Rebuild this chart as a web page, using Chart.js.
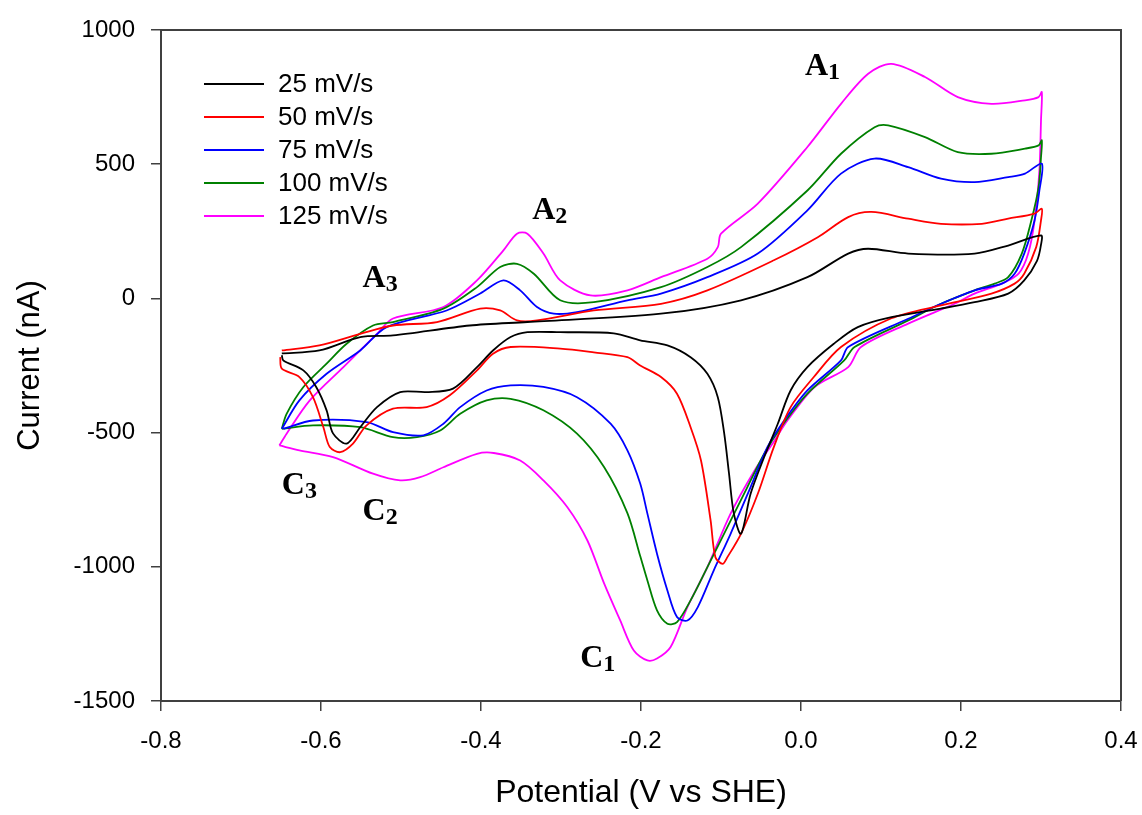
<!DOCTYPE html>
<html>
<head>
<meta charset="utf-8">
<script src="https://cdn.jsdelivr.net/npm/chart.js@4.4.1/dist/chart.umd.min.js"></script>
<style>
  html, body { margin: 0; padding: 0; background: #fff; }
  canvas { display: block; }
</style>
</head>
<body>
<canvas id="cv" width="1142" height="815"></canvas>
<script>
// scan rates (legend)
const scanRates = ["25 mV/s", "50 mV/s", "75 mV/s", "100 mV/s", "125 mV/s"];
const lineColors = ["#000000", "#ff0000", "#0000ff", "#008000", "#ff00ff"];

// each loop: anodic sweep -0.65 -> 0.3 V, then back cathodic to -0.65 V
const v25 = [-0.649,-0.602,-0.551,-0.510,-0.414,-0.342,-0.175,-0.075,0.008,0.059,0.084,0.134,0.217,0.259,0.300,
  0.300,0.295,0.279,0.259,0.217,0.175,0.113,0.071,0.041,0.008,-0.013,-0.029,-0.046,-0.063,-0.075,
  -0.084,-0.090,-0.096,-0.104,-0.117,-0.138,-0.167,-0.201,-0.234,-0.301,-0.342,-0.363,-0.385,-0.405,
  -0.435,-0.468,-0.501,-0.530,-0.551,-0.568,-0.585,-0.593,-0.606,-0.622,-0.647,-0.649];
const i25 = [-205,-194,-144,-138,-101,-88,-57,-7,79,167,185,167,167,197,235,
  200,140,67,18,-14,-38,-70,-107,-169,-256,-343,-467,-591,-728,-877,
  -801,-652,-503,-368,-281,-219,-175,-156,-130,-126,-126,-144,-194,-256,
  -336,-349,-349,-405,-480,-541,-503,-417,-330,-268,-231,-212];

const v50 = [-0.649,-0.602,-0.551,-0.510,-0.455,-0.401,-0.376,-0.355,-0.330,-0.259,
  -0.175,-0.117,-0.034,0.021,0.059,0.088,0.134,0.175,0.226,0.259,0.292,0.301,
  0.300,0.294,0.279,0.267,0.238,0.175,0.113,0.050,0.016,-0.013,
  -0.034,-0.054,-0.075,-0.092,-0.098,-0.107,-0.113,-0.125,-0.138,-0.155,
  -0.175,-0.201,-0.217,-0.259,-0.301,-0.363,-0.385,-0.405,-0.439,-0.468,-0.510,
  -0.543,-0.560,-0.576,-0.589,-0.597,-0.610,-0.627,-0.649,-0.651];
const i50 = [-194,-175,-132,-101,-88,-38,-45,-82,-82,-45,
  -20,30,142,228,303,322,297,278,278,297,316,334,
  291,191,92,55,18,-26,-74,-181,-293,-405,
  -554,-728,-877,-964,-989,-964,-827,-604,-480,-355,
  -293,-250,-219,-201,-187,-181,-206,-268,-361,-405,-411,
  -473,-541,-573,-554,-480,-368,-293,-262,-219];

const v75 = [-0.649,-0.627,-0.593,-0.551,-0.518,-0.443,-0.401,-0.372,-0.351,-0.330,
  -0.309,-0.280,-0.217,-0.175,-0.117,-0.054,0.008,0.050,0.092,0.134,
  0.175,0.217,0.259,0.280,0.301,
  0.298,0.292,0.279,0.267,0.251,0.217,0.175,0.134,0.059,0.050,
  0.008,-0.021,-0.042,-0.063,-0.088,-0.109,-0.129,-0.142,-0.155,-0.167,
  -0.180,-0.192,-0.201,-0.217,-0.238,-0.280,-0.322,-0.363,-0.393,-0.426,
  -0.447,-0.472,-0.510,-0.543,-0.610,-0.647];
const i75 = [-486,-380,-281,-194,-107,-45,18,67,30,-32,
  -57,-51,-7,18,79,167,328,465,521,489,
  446,433,452,465,502,
  402,291,167,92,55,30,-20,-76,-181,-231,
  -343,-455,-554,-703,-877,-1013,-1150,-1200,-1187,-1088,
  -951,-802,-690,-566,-467,-368,-330,-324,-343,-405,
  -467,-510,-498,-461,-455,-486];

const v100 = [-0.649,-0.643,-0.622,-0.593,-0.568,-0.535,-0.510,-0.447,-0.405,-0.376,
  -0.355,-0.334,-0.301,-0.259,-0.175,-0.117,-0.075,0.008,0.050,0.092,
  0.109,0.155,0.196,0.238,0.280,0.297,0.301,
  0.300,0.297,0.288,0.276,0.259,0.242,0.217,0.175,0.134,0.067,
  0.054,0.008,-0.025,-0.046,-0.067,-0.092,-0.117,-0.138,-0.155,-0.167,
  -0.180,-0.192,-0.201,-0.217,-0.246,-0.280,-0.322,-0.363,-0.393,-0.426,
  -0.451,-0.480,-0.510,-0.551,-0.610,-0.649];
const i100 = [-486,-430,-330,-243,-169,-101,-88,-38,42,117,
  129,92,-7,-14,42,117,191,402,539,638,
  645,601,545,539,558,570,589,
  526,415,291,167,79,55,30,-20,-82,-181,
  -231,-355,-480,-579,-703,-852,-1001,-1125,-1206,-1212,
  -1162,-1051,-960,-800,-629,-504,-417,-374,-380,-430,
  -492,-517,-517,-480,-473,-486];

const v125 = [-0.652,-0.643,-0.614,-0.572,-0.530,-0.510,-0.447,-0.405,-0.372,-0.355,
  -0.342,-0.322,-0.301,-0.263,-0.217,-0.175,-0.117,-0.104,-0.100,-0.054,
  0.008,0.050,0.084,0.113,0.155,0.196,0.238,0.280,0.297,0.301,
  0.300,0.298,0.292,0.284,0.272,0.251,0.217,0.192,0.134,0.075,
  0.059,0.017,-0.017,-0.033,-0.058,-0.088,-0.117,-0.142,-0.163,-0.180,
  -0.192,-0.209,-0.226,-0.246,-0.267,-0.292,-0.322,-0.351,-0.384,-0.405,
  -0.447,-0.476,-0.501,-0.535,-0.585,-0.627,-0.652];
const i125 = [-548,-504,-380,-256,-132,-75,-32,67,179,241,
  241,167,67,11,30,79,148,191,241,353,
  564,725,837,874,825,750,725,738,750,769,
  663,477,291,167,92,55,18,-20,-94,-181,
  -256,-330,-455,-529,-641,-802,-1001,-1150,-1299,-1342,
  -1349,-1312,-1200,-1063,-902,-778,-678,-604,-576,-579,
  -629,-666,-678,-653,-591,-566,-548];

const potentials = [v25, v50, v75, v100, v125];
const currents = [i25, i50, i75, i100, i125];

// axis ticks
const xTickValues = [-0.8, -0.6, -0.4, -0.2, 0.0, 0.2, 0.4];
const yTickValues = [-1500, -1000, -500, 0, 500, 1000];

// peak labels (letter + subscript), anchored at data coordinates
const peakLetters = ["A", "A", "A", "C", "C", "C"];
const peakSubs = ["1", "2", "3", "1", "2", "3"];
const peakV = [0.005, -0.336, -0.548, -0.276, -0.548, -0.649];
const peakI = [831, 294, 41, -1375, -827, -727];

const SANS = '"Liberation Sans", Arial, sans-serif';
const SERIF = '"Liberation Serif", "Times New Roman", serif';
Chart.defaults.font.family = SANS;
Chart.defaults.color = "#000";

const datasets = scanRates.map((lbl, k) => ({
  label: lbl,
  data: potentials[k].map((v, j) => ({ x: v, y: currents[k][j] })),
  borderColor: lineColors[k],
  backgroundColor: lineColors[k],
  showLine: true,
  borderWidth: 1.8,
  pointRadius: 0,
  tension: 0.3,
  fill: false,
}));

// frame, peak labels and in-plot legend
const extras = {
  id: "extras",
  afterDatasetsDraw(chart) {
    const { ctx, chartArea: a, scales } = chart;
    ctx.save();
    ctx.strokeStyle = "#404040";
    ctx.lineWidth = 2;
    ctx.beginPath();
    ctx.moveTo(a.left, a.top);
    ctx.lineTo(a.right, a.top);
    ctx.lineTo(a.right, a.bottom);
    ctx.stroke();

    ctx.fillStyle = "#000";
    ctx.textAlign = "left";
    ctx.textBaseline = "alphabetic";
    peakLetters.forEach((ch, i) => {
      const px = scales.x.getPixelForValue(peakV[i]);
      const py = scales.y.getPixelForValue(peakI[i]);
      ctx.font = "bold 32px " + SERIF;
      ctx.fillText(ch, px, py);
      const w = ctx.measureText(ch).width;
      ctx.font = "bold 24px " + SERIF;
      ctx.fillText(peakSubs[i], px + w, py + 4);
    });

    ctx.font = "26px " + SANS;
    ctx.textBaseline = "middle";
    chart.data.datasets.forEach((ds, i) => {
      const yy = a.top + 54 + i * 33;
      ctx.strokeStyle = ds.borderColor;
      ctx.lineWidth = 2;
      ctx.beginPath();
      ctx.moveTo(a.left + 43, yy);
      ctx.lineTo(a.left + 103, yy);
      ctx.stroke();
      ctx.fillText(ds.label, a.left + 117, yy + 1);
    });
    ctx.restore();
  },
};

new Chart(document.getElementById("cv"), {
  type: "scatter",
  data: { datasets },
  options: {
    responsive: false,
    animation: false,
    devicePixelRatio: 1,
    layout: { padding: { top: 30, right: 21, left: 0, bottom: 0 } },
    plugins: { legend: { display: false }, tooltip: { enabled: false } },
    scales: {
      x: {
        type: "linear",
        min: -0.8,
        max: 0.4,
        afterFit: (s) => { s.height = 114; s.paddingLeft = 0; s.paddingRight = 0; },
        afterBuildTicks: (s) => { s.ticks = xTickValues.map((v) => ({ value: v })); },
        ticks: {
          autoSkip: false,
          maxRotation: 0,
          padding: 16,
          color: "#000",
          font: { size: 24 },
          callback: (v) => (Math.abs(v) < 1e-9 ? "0.0" : Number(v).toFixed(1)),
        },
        grid: { drawOnChartArea: false, drawTicks: true, tickLength: 10, color: "#404040", lineWidth: 1.5 },
        border: { color: "#404040", width: 2 },
        title: { display: true, text: "Potential (V vs SHE)", color: "#000", font: { size: 32 }, padding: { top: 0, bottom: 3 } },
      },
      y: {
        type: "linear",
        min: -1500,
        max: 1000,
        afterFit: (s) => { s.width = 161; s.paddingTop = 0; s.paddingBottom = 0; },
        afterBuildTicks: (s) => { s.ticks = yTickValues.map((v) => ({ value: v })); },
        ticks: {
          autoSkip: false,
          padding: 16,
          color: "#000",
          font: { size: 24 },
          callback: (v) => String(v),
        },
        grid: { drawOnChartArea: false, drawTicks: true, tickLength: 10, color: "#404040", lineWidth: 1.5 },
        border: { color: "#404040", width: 2 },
        title: { display: true, text: "Current (nA)", color: "#000", font: { size: 31 }, padding: { top: 12, bottom: 0 } },
      },
    },
  },
  plugins: [extras],
});
</script>
</body>
</html>
